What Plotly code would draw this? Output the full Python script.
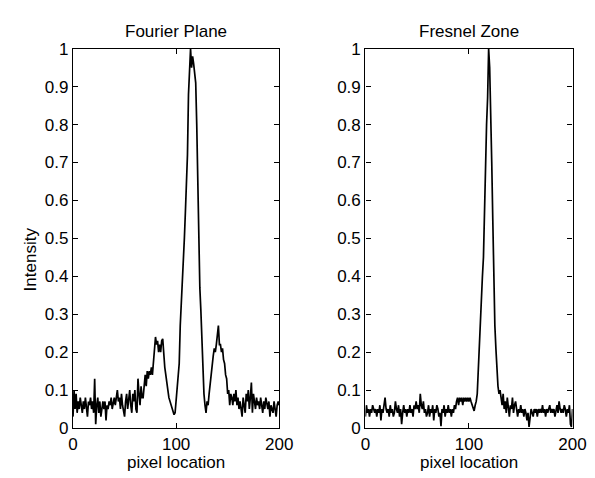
import plotly.graph_objects as go
from plotly.subplots import make_subplots

# pixel position along the scan line
pixel = list(range(0, 201))

# intensity
fourier = [
    0.03, 0.10, 0.05, 0.09, 0.04, 0.07, 0.05, 0.08, 0.06, 0.04,
    0.07, 0.05, 0.08, 0.06, 0.03, 0.07, 0.06, 0.08, 0.05, 0.07,
    0.04, 0.13, 0.01, 0.06, 0.08, 0.04, 0.07, 0.03, 0.06, 0.07,
    0.05, 0.07, 0.02, 0.06, 0.05, 0.07, 0.06, 0.08, 0.05, 0.07,
    0.08, 0.06, 0.09, 0.10, 0.07, 0.08, 0.05, 0.09, 0.06, 0.04,
    0.03, 0.07, 0.09, 0.05, 0.08, 0.10, 0.06, 0.04, 0.09, 0.07,
    0.10, 0.05, 0.04, 0.13, 0.09, 0.06, 0.11, 0.08, 0.08, 0.12,
    0.14, 0.11, 0.15, 0.13, 0.15, 0.14, 0.16, 0.14, 0.17, 0.21,
    0.24, 0.22, 0.23, 0.20, 0.22, 0.20, 0.23, 0.235, 0.19, 0.16,
    0.14, 0.11, 0.10, 0.08, 0.07, 0.06, 0.05, 0.04, 0.035, 0.04,
    0.07, 0.11, 0.14, 0.17, 0.27, 0.32, 0.37, 0.42, 0.50, 0.57,
    0.65, 0.72, 0.88, 0.95, 1.0, 0.95, 0.98, 0.96, 0.94, 0.91,
    0.80, 0.65, 0.50, 0.37, 0.31, 0.22, 0.14, 0.09, 0.06, 0.04,
    0.07, 0.06, 0.09, 0.12, 0.14, 0.16, 0.19, 0.21, 0.20, 0.22,
    0.24, 0.27, 0.22, 0.22, 0.20, 0.21, 0.18, 0.17, 0.14, 0.13,
    0.09, 0.10, 0.06, 0.09, 0.08, 0.06, 0.09, 0.07, 0.10, 0.06,
    0.08, 0.05, 0.07, 0.04, 0.03, 0.08, 0.06, 0.04, 0.09, 0.07,
    0.10, 0.05, 0.08, 0.12, 0.04, 0.09, 0.07, 0.05, 0.08, 0.06,
    0.07, 0.05, 0.08, 0.06, 0.04, 0.07, 0.05, 0.08, 0.06, 0.05,
    0.07, 0.03, 0.06, 0.05, 0.04, 0.07, 0.05, 0.03, 0.06, 0.07,
    0.06,
]

# intensity
fresnel = [
    0.03, 0.06, 0.04, 0.05, 0.03, 0.05, 0.04, 0.06, 0.05, 0.04,
    0.05, 0.03, 0.05, 0.04, 0.06, 0.02, 0.05, 0.04, 0.06, 0.08,
    0.05, 0.04, 0.05, 0.03, 0.06, 0.04, 0.05, 0.03, 0.04, 0.07,
    0.05, 0.04, 0.06, 0.03, 0.05, 0.01, 0.04, 0.06, 0.04, 0.05,
    0.03, 0.05, 0.04, 0.06, 0.04, 0.05, 0.03, 0.06, 0.05, 0.07,
    0.05, 0.06, 0.04, 0.09, 0.06, 0.05, 0.07, 0.04, 0.05, 0.03,
    0.04, 0.06, 0.03, 0.05, 0.04, 0.06, 0.02, 0.05, 0.04, 0.06,
    0.05, 0.03, 0.04, 0.005, 0.05, 0.04, 0.06, 0.03, 0.05, 0.04,
    0.06, 0.04, 0.05, 0.03, 0.05, 0.04, 0.06, 0.05, 0.07, 0.08,
    0.06, 0.08, 0.07, 0.08, 0.06, 0.08, 0.07, 0.08, 0.07, 0.08,
    0.07, 0.08, 0.07, 0.06, 0.05, 0.045, 0.06, 0.07, 0.09, 0.16,
    0.24, 0.31, 0.35, 0.40, 0.45, 0.58, 0.74, 0.80, 0.87, 1.0,
    0.95, 0.85, 0.70, 0.55, 0.40, 0.27, 0.21, 0.15, 0.11, 0.09,
    0.10, 0.08, 0.06, 0.09, 0.05, 0.07, 0.04, 0.08, 0.06, 0.03,
    0.06, 0.05, 0.08, 0.04, 0.06, 0.07, 0.05, 0.03, 0.05, 0.04,
    0.06, 0.04, 0.05, 0.03, 0.05, 0.04, 0.02, 0.04, 0.003, 0.03,
    0.05, 0.04, 0.03, 0.05, 0.04, 0.05, 0.03, 0.05, 0.04, 0.05,
    0.04, 0.06, 0.04, 0.05, 0.03, 0.05, 0.04, 0.05, 0.06, 0.04,
    0.05, 0.04, 0.05, 0.03, 0.05, 0.06, 0.04, 0.07, 0.05, 0.04,
    0.05, 0.04, 0.06, 0.05, 0.03, 0.05, 0.04, 0.06, 0.01, 0.003,
    0.05,
]

x_ticks = [0, 100, 200]
y_ticks = [0, 0.1, 0.2, 0.3, 0.4, 0.5, 0.6, 0.7, 0.8, 0.9, 1]
y_labels = ['0', '0.1', '0.2', '0.3', '0.4', '0.5', '0.6', '0.7', '0.8', '0.9', '1']

W, H = 595, 478
font = dict(family='Liberation Sans, Arial, sans-serif', size=17, color='black')

fig = make_subplots(rows=1, cols=2)
fig.add_trace(go.Scatter(x=pixel, y=fourier, mode='lines',
                         line=dict(color='black', width=1.7)), row=1, col=1)
fig.add_trace(go.Scatter(x=pixel, y=fresnel, mode='lines',
                         line=dict(color='black', width=1.7)), row=1, col=2)

axis_style = dict(showline=True, mirror='ticks', linecolor='black', linewidth=1.4,
                  ticks='inside', ticklen=5, tickwidth=1, tickcolor='black',
                  showgrid=False, zeroline=False, tickfont=font)

fig.update_xaxes(range=[0, 200], tickvals=x_ticks, **axis_style)
fig.update_yaxes(range=[0, 1], tickvals=y_ticks, ticktext=y_labels, **axis_style)

fig.update_layout(
    xaxis=dict(domain=[62 / W, 275 / W]),
    xaxis2=dict(domain=[364 / W, 578 / W]),
    yaxis=dict(domain=[1 - 428 / H, 1 - 33 / H]),
    yaxis2=dict(domain=[1 - 428 / H, 1 - 33 / H]),
    width=W, height=H,
    margin=dict(l=0, r=0, t=0, b=0),
    paper_bgcolor='white', plot_bgcolor='white',
    showlegend=False, font=font,
)

# titles and axis labels placed like the original figure
texts = [
    ('Fourier Plane', 168.5 / W, 1 - 15 / H, 0),
    ('Fresnel Zone', 471 / W, 1 - 15 / H, 0),
    ('pixel location', 168.5 / W, 1 - 464 / H, 0),
    ('pixel location', 471 / W, 1 - 464 / H, 0),
    ('Intensity', 19 / W, 1 - 252 / H, -90),
]
for txt, ax, ay, ang in texts:
    fig.add_annotation(text=txt, x=ax, y=ay, xref='paper', yref='paper',
                       showarrow=False, textangle=ang, font=font,
                       xanchor='center', yanchor='middle')

fig.write_html("out.html")
